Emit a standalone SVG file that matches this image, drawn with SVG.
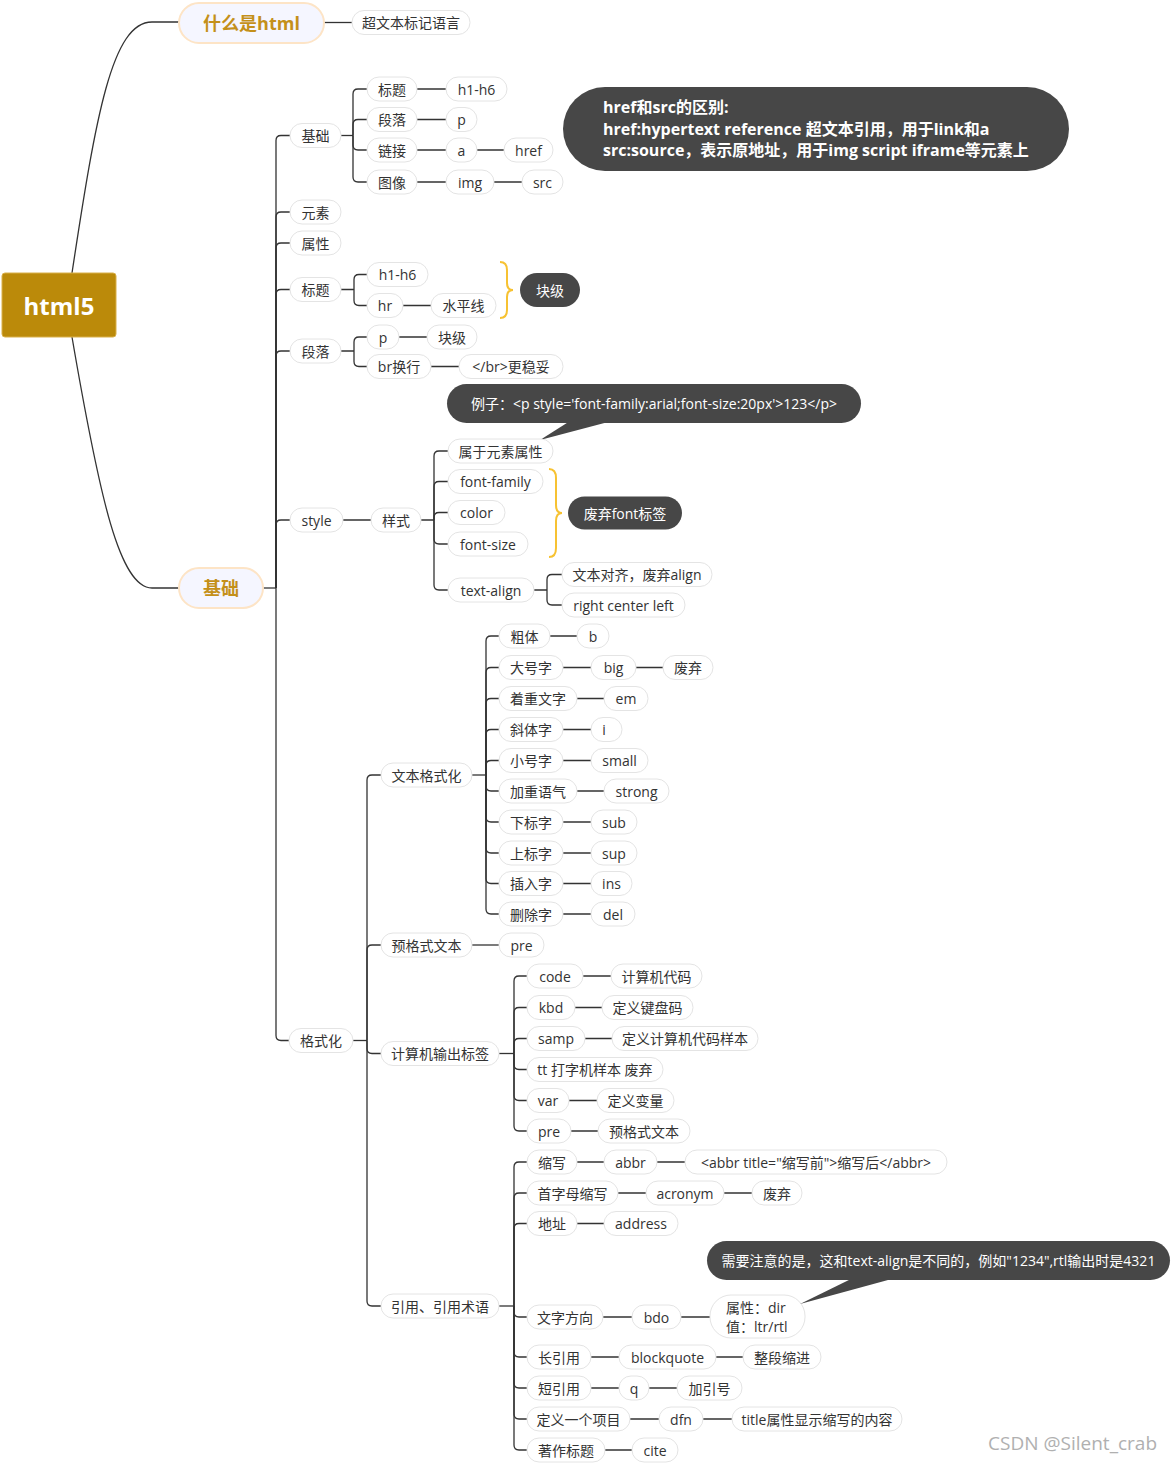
<svg xmlns="http://www.w3.org/2000/svg" width="1172" height="1463" viewBox="0 0 1172 1463">
<style>
.n{fill:#fff;stroke:#e4e4e4;stroke-width:1}
.t{font-family:"Open Sans","Noto Sans CJK SC",sans-serif;font-size:14px;fill:#333;text-anchor:middle;dominant-baseline:central}
.b{fill:#f5f6ff;stroke:#fde4c6;stroke-width:2}
.bt{font-family:"Open Sans","Noto Sans CJK SC",sans-serif;font-size:18px;font-weight:bold;fill:#c4901a;text-anchor:middle;dominant-baseline:central}
.d{fill:#474747}
.dt{font-family:"Open Sans","Noto Sans CJK SC",sans-serif;font-size:14px;fill:#fff;text-anchor:middle;dominant-baseline:central}
.c path{fill:none;stroke:#333;stroke-width:1.3}
.main{fill:none;stroke:#333;stroke-width:2}
.br{fill:none;stroke:#f7c232;stroke-width:2}
</style>
<rect width="1172" height="1463" fill="#fff"/>
<g id="connectors" class="c">
<path class="main" d="M72,273 C96,115 112,22 152,22 L179,22"/>
<path class="main" d="M72,337 C100,500 120,588 152,588 L179,588"/>
<path d="M324,22.5 H352"/>
<path d="M263,588 H276"/>
<path d="M276,588 V140.5 Q276,135.5 281,135.5 H290"/>
<path d="M276,588 V217 Q276,212 281,212 H290"/>
<path d="M276,588 V248 Q276,243 281,243 H290"/>
<path d="M276,588 V294.5 Q276,289.5 281,289.5 H290"/>
<path d="M276,588 V356 Q276,351 281,351 H290"/>
<path d="M276,588 V525 Q276,520 281,520 H290"/>
<path d="M276,588 V1035.5 Q276,1040.5 281,1040.5 H289"/>
<path d="M341,135.5 H353"/>
<path d="M353,135.5 V94 Q353,89 358,89 H367"/>
<path d="M353,135.5 V124.5 Q353,119.5 358,119.5 H367"/>
<path d="M353,135.5 V145 Q353,150 358,150 H367"/>
<path d="M353,135.5 V177 Q353,182 358,182 H367"/>
<path d="M417,89 H446 M417,119.5 H446 M417,150 H446 M477,150 H504 M417,182 H446 M494,182 H522"/>
<path d="M341,289.5 H354 M354,289.5 V279.5 Q354,274.5 359,274.5 H367 M354,289.5 V300.5 Q354,305.5 359,305.5 H367 M403,305.5 H431"/>
<path d="M341,351 H354 M354,351 V342 Q354,337 359,337 H367 M354,351 V361.5 Q354,366.5 359,366.5 H367 M399,337 H427 M431,366.5 H459"/>
<path d="M343,520 H371 M421,520 H434"/>
<path d="M434,520 V456 Q434,451 439,451 H448"/>
<path d="M434,520 V486.5 Q434,481.5 439,481.5 H448"/>
<path d="M434,520 V517.5 Q434,512.5 439,512.5 H448"/>
<path d="M434,520 V539 Q434,544 439,544 H448"/>
<path d="M434,520 V585 Q434,590 439,590 H448"/>
<path d="M534,590 H547 M547,590 V579.5 Q547,574.5 552,574.5 H562 M547,590 V600 Q547,605 552,605 H562"/>
<path d="M353,1040.5 H367"/>
<path d="M367,1040.5 V780 Q367,775 372,775 H381"/>
<path d="M367,1040.5 V950 Q367,945 372,945 H381"/>
<path d="M367,1040.5 V1048.5 Q367,1053.5 372,1053.5 H381"/>
<path d="M367,1040.5 V1301 Q367,1306 372,1306 H381"/>
<path d="M472,775 H486"/>
<path d="M486,775 V641 Q486,636 491,636 H499"/>
<path d="M486,775 V672.5 Q486,667.5 491,667.5 H499"/>
<path d="M486,775 V703.5 Q486,698.5 491,698.5 H499"/>
<path d="M486,775 V734.5 Q486,729.5 491,729.5 H499"/>
<path d="M486,775 V765.5 Q486,760.5 491,760.5 H499"/>
<path d="M486,775 V786 Q486,791 491,791 H499"/>
<path d="M486,775 V817 Q486,822 491,822 H499"/>
<path d="M486,775 V848 Q486,853 491,853 H499"/>
<path d="M486,775 V878.5 Q486,883.5 491,883.5 H499"/>
<path d="M486,775 V909 Q486,914 491,914 H499"/>
<path d="M550,636 H577 M563,667.5 H591 M636,667.5 H663 M577,698.5 H604 M563,729.5 H591 M563,760.5 H591 M577,791 H604 M563,822 H591 M563,853 H591 M563,883.5 H591 M563,914 H591"/>
<path d="M472,945 H499"/>
<path d="M499,1053.5 H514"/>
<path d="M514,1053.5 V981 Q514,976 519,976 H527"/>
<path d="M514,1053.5 V1012.5 Q514,1007.5 519,1007.5 H527"/>
<path d="M514,1053.5 V1043.5 Q514,1038.5 519,1038.5 H527"/>
<path d="M514,1053.5 V1064.5 Q514,1069.5 519,1069.5 H527"/>
<path d="M514,1053.5 V1095.5 Q514,1100.5 519,1100.5 H527"/>
<path d="M514,1053.5 V1126 Q514,1131 519,1131 H527"/>
<path d="M583,976 H611 M575,1007.5 H602 M585,1038.5 H612 M569,1100.5 H597 M571,1131 H598"/>
<path d="M499,1306 H514"/>
<path d="M514,1306 V1167 Q514,1162 519,1162 H527"/>
<path d="M514,1306 V1198 Q514,1193 519,1193 H527"/>
<path d="M514,1306 V1228.5 Q514,1223.5 519,1223.5 H527"/>
<path d="M514,1306 V1312 Q514,1317 519,1317 H527"/>
<path d="M514,1306 V1352 Q514,1357 519,1357 H527"/>
<path d="M514,1306 V1383 Q514,1388 519,1388 H527"/>
<path d="M514,1306 V1414 Q514,1419 519,1419 H527"/>
<path d="M514,1306 V1445 Q514,1450 519,1450 H527"/>
<path d="M577,1162 H604 M657,1162 H685 M618,1193 H646 M724,1193 H752 M577,1223.5 H604 M603,1317 H632 M681,1317 H710 M591,1357 H619 M716,1357 H743 M591,1388 H619 M649,1388 H677 M630,1419 H659 M703,1419 H732 M605,1450 H632"/>
</g>
<g id="braces">
<path class="br" d="M500,262 Q507,262 507,270 L507,283 Q507,290 513,290 Q507,290 507,297 L507,310 Q507,318 500,318"/>
<path class="br" d="M549,469 Q556,469 556,478 L556,505 Q556,513 562,513 Q556,513 556,521 L556,548 Q556,557 549,557"/>
</g>
<g id="root"><rect x="2" y="273" width="114" height="64" rx="3" fill="#bb8a0a" stroke="#d9b04a" stroke-width="1"/><text x="59" y="305" style="font-family:'Open Sans','Noto Sans CJK SC',sans-serif;font-size:24px;font-weight:bold;fill:#fff;text-anchor:middle;dominant-baseline:central">html5</text></g>
<g id="n-what"><rect class="b" x="179" y="3" width="145" height="40" rx="20"/><text class="bt" x="251.5" y="23">什么是html</text></g>
<g id="n-what-1"><rect class="n" x="352" y="10.5" width="118" height="24" rx="12"/><text class="t" x="411" y="22.5">超文本标记语言</text></g>
<g id="n-basic"><rect class="b" x="179" y="568" width="84" height="40" rx="20"/><text class="bt" x="221" y="588">基础</text></g>
<g id="n-jc"><rect class="n" x="290" y="123.5" width="51" height="24" rx="12"/><text class="t" x="315.5" y="135.5">基础</text></g>
<g id="n-jc-bt"><rect class="n" x="367" y="77" width="50" height="24" rx="12"/><text class="t" x="392" y="89">标题</text></g>
<g id="n-jc-h"><rect class="n" x="446" y="77" width="61" height="24" rx="12"/><text class="t" x="476.5" y="89">h1-h6</text></g>
<g id="n-jc-dl"><rect class="n" x="367" y="107.5" width="50" height="24" rx="12"/><text class="t" x="392" y="119.5">段落</text></g>
<g id="n-jc-p"><rect class="n" x="446" y="107.5" width="31" height="24" rx="12"/><text class="t" x="461.5" y="119.5">p</text></g>
<g id="n-jc-lj"><rect class="n" x="367" y="138" width="50" height="24" rx="12"/><text class="t" x="392" y="150">链接</text></g>
<g id="n-jc-a"><rect class="n" x="446" y="138" width="31" height="24" rx="12"/><text class="t" x="461.5" y="150">a</text></g>
<g id="n-jc-href"><rect class="n" x="504" y="138" width="49" height="24" rx="12"/><text class="t" x="528.5" y="150">href</text></g>
<g id="n-jc-tx"><rect class="n" x="367" y="170" width="50" height="24" rx="12"/><text class="t" x="392" y="182">图像</text></g>
<g id="n-jc-img"><rect class="n" x="446" y="170" width="48" height="24" rx="12"/><text class="t" x="470" y="182">img</text></g>
<g id="n-jc-src"><rect class="n" x="522" y="170" width="41" height="24" rx="12"/><text class="t" x="542.5" y="182">src</text></g>
<g id="n-ys"><rect class="n" x="290" y="200" width="51" height="24" rx="12"/><text class="t" x="315.5" y="212">元素</text></g>
<g id="n-sx"><rect class="n" x="290" y="231" width="51" height="24" rx="12"/><text class="t" x="315.5" y="243">属性</text></g>
<g id="n-bt"><rect class="n" x="290" y="277.5" width="51" height="24" rx="12"/><text class="t" x="315.5" y="289.5">标题</text></g>
<g id="n-bt-h"><rect class="n" x="367" y="262.5" width="61" height="24" rx="12"/><text class="t" x="397.5" y="274.5">h1-h6</text></g>
<g id="n-bt-hr"><rect class="n" x="367" y="293.5" width="36" height="24" rx="12"/><text class="t" x="385" y="305.5">hr</text></g>
<g id="n-bt-spx"><rect class="n" x="431" y="293.5" width="65" height="24" rx="12"/><text class="t" x="463.5" y="305.5">水平线</text></g>
<g id="n-kj1"><rect class="d" x="520" y="273" width="60" height="34" rx="17"/><text class="dt" x="550" y="290">块级</text></g>
<g id="n-dl"><rect class="n" x="290" y="339" width="51" height="24" rx="12"/><text class="t" x="315.5" y="351">段落</text></g>
<g id="n-dl-p"><rect class="n" x="367" y="325" width="32" height="24" rx="12"/><text class="t" x="383" y="337">p</text></g>
<g id="n-dl-kj"><rect class="n" x="427" y="325" width="50" height="24" rx="12"/><text class="t" x="452" y="337">块级</text></g>
<g id="n-dl-br"><rect class="n" x="367" y="354.5" width="64" height="24" rx="12"/><text class="t" x="399" y="366.5">br换行</text></g>
<g id="n-dl-br2"><rect class="n" x="459" y="354.5" width="104" height="24" rx="12"/><text class="t" x="511" y="366.5">&lt;/br&gt;更稳妥</text></g>
<g id="note-style"><path class="d" d="M570,421 L612,421 L540,440 Z"/><rect class="d" x="447" y="384" width="414" height="39" rx="19.5"/><text class="dt" x="654" y="403.5">例子：&lt;p style='font-family:arial;font-size:20px'&gt;123&lt;/p&gt;</text></g>
<g id="n-style"><rect class="n" x="290" y="508" width="53" height="24" rx="12"/><text class="t" x="316.5" y="520">style</text></g>
<g id="n-ysh"><rect class="n" x="371" y="508" width="50" height="24" rx="12"/><text class="t" x="396" y="520">样式</text></g>
<g id="n-st-1"><rect class="n" x="448" y="439" width="105" height="24" rx="12"/><text class="t" x="500.5" y="451">属于元素属性</text></g>
<g id="n-st-ff"><rect class="n" x="448" y="469.5" width="95" height="24" rx="12"/><text class="t" x="495.5" y="481.5">font-family</text></g>
<g id="n-st-c"><rect class="n" x="448" y="500.5" width="57" height="24" rx="12"/><text class="t" x="476.5" y="512.5">color</text></g>
<g id="n-st-fs"><rect class="n" x="448" y="532" width="80" height="24" rx="12"/><text class="t" x="488" y="544">font-size</text></g>
<g id="n-st-ta"><rect class="n" x="448" y="578" width="86" height="24" rx="12"/><text class="t" x="491" y="590">text-align</text></g>
<g id="n-st-ta1"><rect class="n" x="562" y="562.5" width="150" height="24" rx="12"/><text class="t" x="637" y="574.5">文本对齐，废弃align</text></g>
<g id="n-st-ta2"><rect class="n" x="562" y="593" width="123" height="24" rx="12"/><text class="t" x="623.5" y="605">right center left</text></g>
<g id="n-font"><rect class="d" x="568" y="496.5" width="114" height="33" rx="16.5"/><text class="dt" x="625" y="513">废弃font标签</text></g>
<g id="n-gsh"><rect class="n" x="289" y="1028.5" width="64" height="24" rx="12"/><text class="t" x="321" y="1040.5">格式化</text></g>
<g id="n-wb"><rect class="n" x="381" y="763" width="91" height="24" rx="12"/><text class="t" x="426.5" y="775">文本格式化</text></g>
<g id="n-wb-1"><rect class="n" x="499" y="624" width="51" height="24" rx="12"/><text class="t" x="524.5" y="636">粗体</text></g>
<g id="n-wb-1a"><rect class="n" x="577" y="624" width="32" height="24" rx="12"/><text class="t" x="593" y="636">b</text></g>
<g id="n-wb-2"><rect class="n" x="499" y="655.5" width="64" height="24" rx="12"/><text class="t" x="531" y="667.5">大号字</text></g>
<g id="n-wb-2a"><rect class="n" x="591" y="655.5" width="45" height="24" rx="12"/><text class="t" x="613.5" y="667.5">big</text></g>
<g id="n-wb-2b"><rect class="n" x="663" y="655.5" width="50" height="24" rx="12"/><text class="t" x="688" y="667.5">废弃</text></g>
<g id="n-wb-3"><rect class="n" x="499" y="686.5" width="78" height="24" rx="12"/><text class="t" x="538" y="698.5">着重文字</text></g>
<g id="n-wb-3a"><rect class="n" x="604" y="686.5" width="44" height="24" rx="12"/><text class="t" x="626" y="698.5">em</text></g>
<g id="n-wb-4"><rect class="n" x="499" y="717.5" width="64" height="24" rx="12"/><text class="t" x="531" y="729.5">斜体字</text></g>
<g id="n-wb-4a"><rect class="n" x="591" y="717.5" width="31" height="24" rx="12"/><text class="t" x="604" y="729.5">i</text></g>
<g id="n-wb-5"><rect class="n" x="499" y="748.5" width="64" height="24" rx="12"/><text class="t" x="531" y="760.5">小号字</text></g>
<g id="n-wb-5a"><rect class="n" x="591" y="748.5" width="57" height="24" rx="12"/><text class="t" x="619.5" y="760.5">small</text></g>
<g id="n-wb-6"><rect class="n" x="499" y="779" width="78" height="24" rx="12"/><text class="t" x="538" y="791">加重语气</text></g>
<g id="n-wb-6a"><rect class="n" x="604" y="779" width="65" height="24" rx="12"/><text class="t" x="636.5" y="791">strong</text></g>
<g id="n-wb-7"><rect class="n" x="499" y="810" width="64" height="24" rx="12"/><text class="t" x="531" y="822">下标字</text></g>
<g id="n-wb-7a"><rect class="n" x="591" y="810" width="46" height="24" rx="12"/><text class="t" x="614" y="822">sub</text></g>
<g id="n-wb-8"><rect class="n" x="499" y="841" width="64" height="24" rx="12"/><text class="t" x="531" y="853">上标字</text></g>
<g id="n-wb-8a"><rect class="n" x="591" y="841" width="46" height="24" rx="12"/><text class="t" x="614" y="853">sup</text></g>
<g id="n-wb-9"><rect class="n" x="499" y="871.5" width="64" height="24" rx="12"/><text class="t" x="531" y="883.5">插入字</text></g>
<g id="n-wb-9a"><rect class="n" x="591" y="871.5" width="41" height="24" rx="12"/><text class="t" x="611.5" y="883.5">ins</text></g>
<g id="n-wb-10"><rect class="n" x="499" y="902" width="64" height="24" rx="12"/><text class="t" x="531" y="914">删除字</text></g>
<g id="n-wb-10a"><rect class="n" x="591" y="902" width="44" height="24" rx="12"/><text class="t" x="613" y="914">del</text></g>
<g id="n-pre"><rect class="n" x="381" y="933" width="91" height="24" rx="12"/><text class="t" x="426.5" y="945">预格式文本</text></g>
<g id="n-pre-a"><rect class="n" x="499" y="933" width="45" height="24" rx="12"/><text class="t" x="521.5" y="945">pre</text></g>
<g id="n-pc"><rect class="n" x="381" y="1041.5" width="118" height="24" rx="12"/><text class="t" x="440" y="1053.5">计算机输出标签</text></g>
<g id="n-pc-1"><rect class="n" x="527" y="964" width="56" height="24" rx="12"/><text class="t" x="555" y="976">code</text></g>
<g id="n-pc-1a"><rect class="n" x="611" y="964" width="91" height="24" rx="12"/><text class="t" x="656.5" y="976">计算机代码</text></g>
<g id="n-pc-2"><rect class="n" x="527" y="995.5" width="48" height="24" rx="12"/><text class="t" x="551" y="1007.5">kbd</text></g>
<g id="n-pc-2a"><rect class="n" x="602" y="995.5" width="91" height="24" rx="12"/><text class="t" x="647.5" y="1007.5">定义键盘码</text></g>
<g id="n-pc-3"><rect class="n" x="527" y="1026.5" width="58" height="24" rx="12"/><text class="t" x="556" y="1038.5">samp</text></g>
<g id="n-pc-3a"><rect class="n" x="612" y="1026.5" width="146" height="24" rx="12"/><text class="t" x="685" y="1038.5">定义计算机代码样本</text></g>
<g id="n-pc-4"><rect class="n" x="527" y="1057.5" width="136" height="24" rx="12"/><text class="t" x="595" y="1069.5">tt 打字机样本 废弃</text></g>
<g id="n-pc-5"><rect class="n" x="527" y="1088.5" width="42" height="24" rx="12"/><text class="t" x="548" y="1100.5">var</text></g>
<g id="n-pc-5a"><rect class="n" x="597" y="1088.5" width="77" height="24" rx="12"/><text class="t" x="635.5" y="1100.5">定义变量</text></g>
<g id="n-pc-6"><rect class="n" x="527" y="1119" width="44" height="24" rx="12"/><text class="t" x="549" y="1131">pre</text></g>
<g id="n-pc-6a"><rect class="n" x="598" y="1119" width="92" height="24" rx="12"/><text class="t" x="644" y="1131">预格式文本</text></g>
<g id="n-yy"><rect class="n" x="381" y="1294" width="118" height="24" rx="12"/><text class="t" x="440" y="1306">引用、引用术语</text></g>
<g id="n-yy-1"><rect class="n" x="527" y="1150" width="50" height="24" rx="12"/><text class="t" x="552" y="1162">缩写</text></g>
<g id="n-yy-1a"><rect class="n" x="604" y="1150" width="53" height="24" rx="12"/><text class="t" x="630.5" y="1162">abbr</text></g>
<g id="n-yy-1b"><rect class="n" x="685" y="1150" width="262" height="24" rx="12"/><text class="t" x="816" y="1162">&lt;abbr title="缩写前"&gt;缩写后&lt;/abbr&gt;</text></g>
<g id="n-yy-2"><rect class="n" x="527" y="1181" width="91" height="24" rx="12"/><text class="t" x="572.5" y="1193">首字母缩写</text></g>
<g id="n-yy-2a"><rect class="n" x="646" y="1181" width="78" height="24" rx="12"/><text class="t" x="685" y="1193">acronym</text></g>
<g id="n-yy-2b"><rect class="n" x="752" y="1181" width="50" height="24" rx="12"/><text class="t" x="777" y="1193">废弃</text></g>
<g id="n-yy-3"><rect class="n" x="527" y="1211.5" width="50" height="24" rx="12"/><text class="t" x="552" y="1223.5">地址</text></g>
<g id="n-yy-3a"><rect class="n" x="604" y="1211.5" width="74" height="24" rx="12"/><text class="t" x="641" y="1223.5">address</text></g>
<g id="n-yy-4"><rect class="n" x="527" y="1305" width="76" height="24" rx="12"/><text class="t" x="565" y="1317">文字方向</text></g>
<g id="n-yy-4a"><rect class="n" x="632" y="1305" width="49" height="24" rx="12"/><text class="t" x="656.5" y="1317">bdo</text></g>
<g id="n-yy-4b"><rect class="n" x="710" y="1295" width="95" height="43" rx="21"/><text class="t" x="726" y="1307" style="text-anchor:start">属性：dir</text><text class="t" x="726" y="1326" style="text-anchor:start">值：ltr/rtl</text></g>
<g id="n-yy-5"><rect class="n" x="527" y="1345" width="64" height="24" rx="12"/><text class="t" x="559" y="1357">长引用</text></g>
<g id="n-yy-5a"><rect class="n" x="619" y="1345" width="97" height="24" rx="12"/><text class="t" x="667.5" y="1357">blockquote</text></g>
<g id="n-yy-5b"><rect class="n" x="743" y="1345" width="78" height="24" rx="12"/><text class="t" x="782" y="1357">整段缩进</text></g>
<g id="n-yy-6"><rect class="n" x="527" y="1376" width="64" height="24" rx="12"/><text class="t" x="559" y="1388">短引用</text></g>
<g id="n-yy-6a"><rect class="n" x="619" y="1376" width="30" height="24" rx="12"/><text class="t" x="634" y="1388">q</text></g>
<g id="n-yy-6b"><rect class="n" x="677" y="1376" width="65" height="24" rx="12"/><text class="t" x="709.5" y="1388">加引号</text></g>
<g id="n-yy-7"><rect class="n" x="527" y="1407" width="103" height="24" rx="12"/><text class="t" x="578.5" y="1419">定义一个项目</text></g>
<g id="n-yy-7a"><rect class="n" x="659" y="1407" width="44" height="24" rx="12"/><text class="t" x="681" y="1419">dfn</text></g>
<g id="n-yy-7b"><rect class="n" x="732" y="1407" width="170" height="24" rx="12"/><text class="t" x="817" y="1419">title属性显示缩写的内容</text></g>
<g id="n-yy-8"><rect class="n" x="527" y="1438" width="78" height="24" rx="12"/><text class="t" x="566" y="1450">著作标题</text></g>
<g id="n-yy-8a"><rect class="n" x="632" y="1438" width="46" height="24" rx="12"/><text class="t" x="655" y="1450">cite</text></g>
<g id="note-bdo"><path class="d" d="M855,1277 L899,1277 L800,1304 Z"/><rect class="d" x="707" y="1241" width="463" height="39" rx="19.5"/><text class="dt" x="938.5" y="1260.5">需要注意的是，这和text-align是不同的，例如"1234",rtl输出时是4321</text></g>
<g id="note-href"><rect class="d" x="563" y="87" width="506" height="84" rx="42"/><text style="font-family:'Open Sans','Noto Sans CJK SC',sans-serif;font-size:16px;font-weight:bold;fill:#fff"><tspan x="603" y="113">href和src的区别:</tspan><tspan x="603" y="134.5">href:hypertext reference 超文本引用，用于link和a</tspan><tspan x="603" y="156">src:source，表示原地址，用于img script iframe等元素上</tspan></text></g>
<text x="1157" y="1450" style="font-family:'Open Sans','Noto Sans CJK SC',sans-serif;font-size:19px;fill:#b0b0b0;text-anchor:end">CSDN @Silent_crab</text>
</svg>
